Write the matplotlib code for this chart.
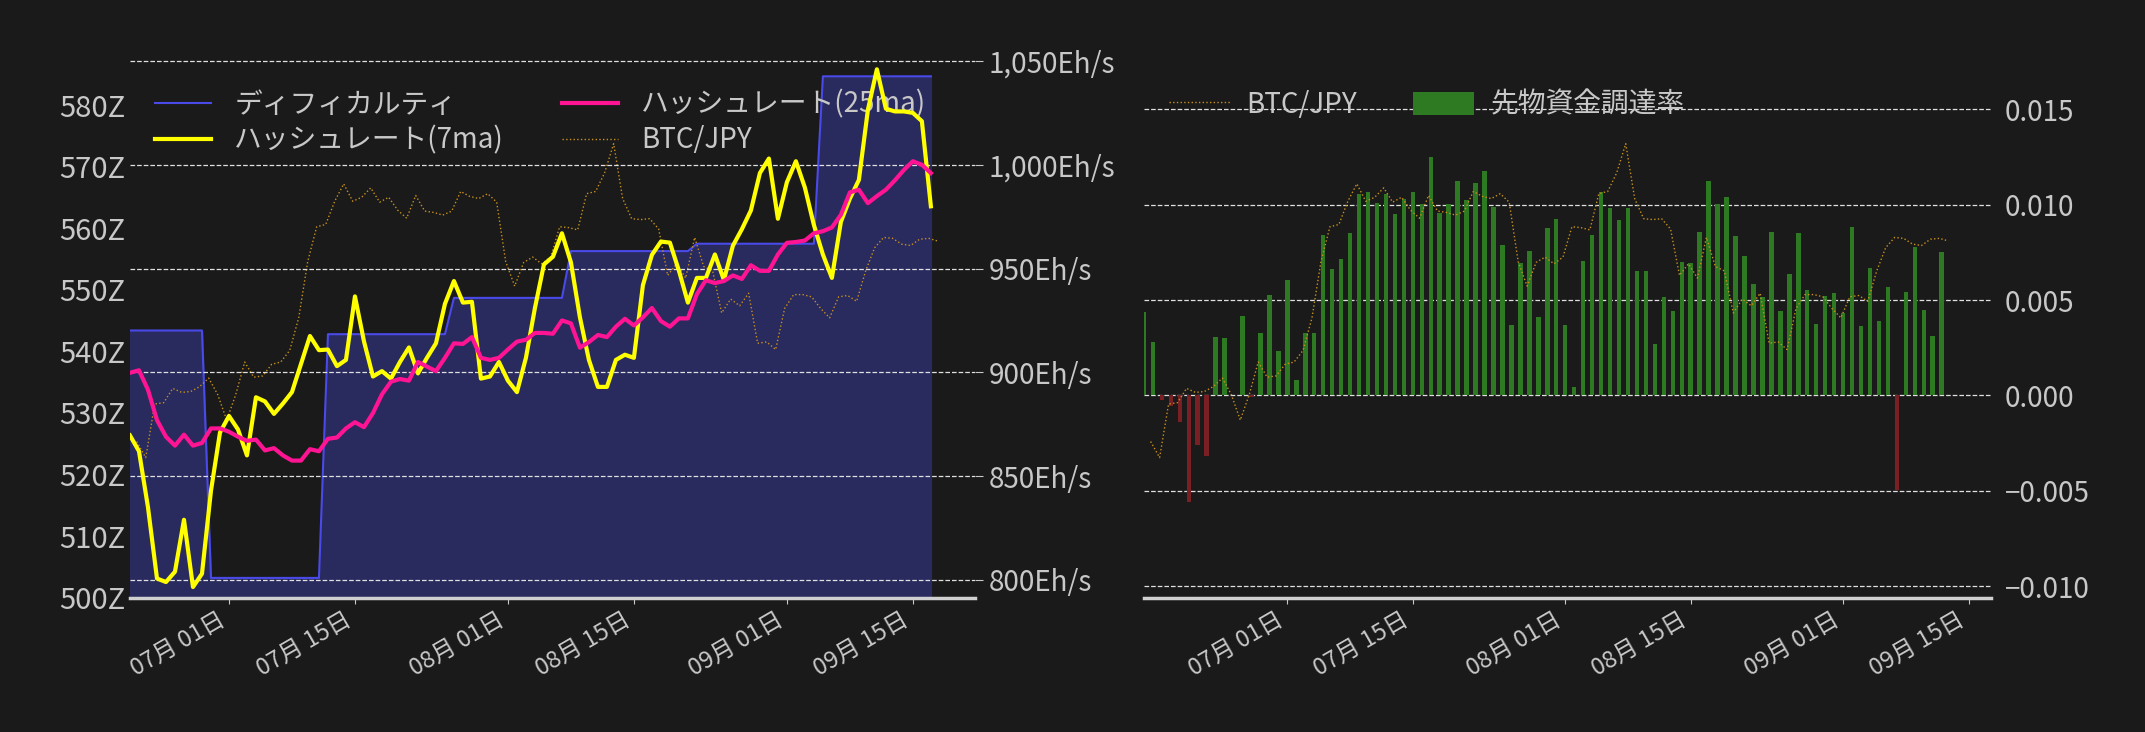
import numpy as np
import pandas as pd
import matplotlib
matplotlib.use("Agg")
import matplotlib.pyplot as plt
import matplotlib.dates as mdates
from matplotlib.ticker import FuncFormatter

plt.rcParams['font.family'] = ['Noto Sans CJK JP', 'DejaVu Sans']

BG = "#1a1a1a"
TXT = "#c8c8c8"

# ---- data ----
left_dates = pd.date_range("2023-06-20", periods=90, freq="D")
right_dates = pd.date_range("2023-06-15", periods=90, freq="D")

# difficulty epochs (Z) and their length in days
diff_values = [543.4, 503.2, 542.8, 548.7, 556.3, 557.5, 584.7]
diff_days = [9, 13, 14, 13, 14, 14, 13]

hash_7ma = [869.6, 862, 835, 800.7, 799, 804, 829, 796.6, 803, 843,
            871, 879, 872.5, 860, 888, 886, 880, 885, 890.5, 904,
            917.5, 910.7, 911, 903, 906, 936.6, 915, 898, 900.6, 897,
            905, 912, 899.5, 907, 914, 933, 944, 933.6, 934, 897,
            898, 905, 896, 890.5, 907, 931, 952, 955.7, 967, 953,
            926.5, 906, 893, 893, 906, 908.5, 907, 942, 956.6, 963,
            962.5, 949, 933.6, 945.5, 945.5, 956.8, 944.5, 961, 969, 978,
            996, 1003, 974, 991.6, 1001.7, 989, 971, 956.8, 945.5, 972.5,
            983.7, 992.7, 1026.4, 1046, 1027, 1025.7, 1025.7, 1025, 1021, 980]

hash_25ma = [899.8, 901, 891.6, 877, 869, 864.7, 870, 864.7, 866, 873,
             873, 871.4, 869, 867, 867.6, 862.4, 863.5, 860, 857.5, 857.5,
             863, 862, 868, 868.6, 873, 876, 873.6, 880.4, 889.4, 895.5,
             896.8, 896, 905, 902.8, 900.6, 907, 914, 913.7, 917, 907,
             906, 907, 911, 914.8, 915.7, 919, 919, 918.6, 925, 923.6,
             911.9, 914.6, 918, 917, 922, 925.8, 922.6, 926.5, 931, 924.7,
             922, 926, 926, 937.7, 944.4, 943, 944, 946.7, 945, 951.6,
             948.9, 948.9, 956.8, 962.4, 962.8, 963.5, 967, 968, 969.8, 975.9,
             986.7, 988, 981.5, 984.9, 988, 992.5, 997.5, 1001.7, 1000, 996]

# BTC/JPY (JPY)
btc_jpy = [3736000, 3700000, 3820000, 3823000, 3855000, 3846000, 3848000, 3859000, 3878000, 3841000,
           3784000, 3841000, 3914000, 3880000, 3883000, 3909000, 3914000, 3940000, 4013000, 4139000,
           4217000, 4222000, 4274000, 4313000, 4274000, 4283000, 4304000, 4272000, 4283000, 4254000,
           4236000, 4287000, 4252000, 4249000, 4243000, 4252000, 4296000, 4285000, 4280000, 4291000,
           4272000, 4139000, 4084000, 4137000, 4149000, 4134000, 4149000, 4217000, 4215000, 4210000,
           4291000, 4296000, 4338000, 4403000, 4280000, 4235000, 4233000, 4235000, 4212000, 4108000,
           4134000, 4102000, 4193000, 4128000, 4118000, 4024000, 4055000, 4040000, 4068000, 3956000,
           3959000, 3942000, 4034000, 4065000, 4065000, 4060000, 4034000, 4013000, 4060000, 4063000,
           4050000, 4118000, 4170000, 4193000, 4191000, 4178000, 4175000, 4189000, 4191000, 4185000]

funding_rate = [0.00437, 0.00279, -0.00024, -0.00056, -0.00138, -0.00558, -0.0026, -0.0032, 0.00308, 0.00299,
                0.0, 0.00417, -0.0001, 0.00328, 0.00527, 0.00231, 0.00607, 0.0008, 0.00328, 0.00328,
                0.00842, 0.00663, 0.00716, 0.00852, 0.01056, 0.01068, 0.01007, 0.01056, 0.00951, 0.01032,
                0.01068, 0.01002, 0.0125, 0.00959, 0.01002, 0.01124, 0.01024, 0.01114, 0.01177, 0.00988,
                0.00789, 0.00369, 0.00692, 0.00757, 0.00413, 0.00876, 0.00927, 0.00371, 0.00044, 0.00704,
                0.00842, 0.01068, 0.00981, 0.0092, 0.00981, 0.00655, 0.0065, 0.00272, 0.00515, 0.00442,
                0.00697, 0.00692, 0.00859, 0.01126, 0.01002, 0.01041, 0.00835, 0.00733, 0.00583, 0.00517,
                0.00857, 0.00442, 0.00636, 0.00852, 0.00551, 0.00374, 0.00522, 0.00539, 0.00432, 0.00881,
                0.00364, 0.00667, 0.00388, 0.0057, -0.00498, 0.00541, 0.00777, 0.00447, 0.00311, 0.0075]

difficulty = np.repeat(diff_values, diff_days)
btc_ylim = (3386500, 4616500)
xticks = pd.to_datetime(["2023-07-01", "2023-07-15", "2023-08-01", "2023-08-15", "2023-09-01", "2023-09-15"])


def style_axis(ax):
    ax.set_facecolor(BG)
    for s in ["top", "left", "right"]:
        ax.spines[s].set_visible(False)
    ax.spines["bottom"].set_color("#d0d0d0")
    ax.spines["bottom"].set_linewidth(2.5)
    ax.tick_params(colors=TXT, labelsize=17, length=4)
    ax.set_xticks(xticks)
    ax.xaxis.set_major_formatter(mdates.DateFormatter("%m月 %d日"))
    for lb in ax.get_xticklabels():
        lb.set_rotation(30)
        lb.set_ha("right")


fig = plt.figure(figsize=(21.45, 7.32), dpi=100)
fig.patch.set_facecolor(BG)

# ---- left panel ----
ax = fig.add_axes([0.0606, 0.1836, 0.394, 0.7504])
style_axis(ax)
ax.fill_between(left_dates, 500, difficulty, color="#292a5e", zorder=1)
l_diff, = ax.plot(left_dates, difficulty, color="#4a4ae8", lw=1.5, label="ディフィカルティ", zorder=2)
ax.set_ylim(500, 589.25)
ax.set_yticks(np.arange(500, 581, 10))
ax.yaxis.set_major_formatter(FuncFormatter(lambda v, p: f"{v:.0f}Z"))
ax.set_xlim(left_dates[0], pd.Timestamp("2023-09-21 22:00"))

ax_btc = ax.twinx()
ax_btc.set_ylim(*btc_ylim)
ax_btc.axis("off")
l_btc, = ax_btc.plot(left_dates + pd.Timedelta(hours=18), btc_jpy, color="#c8901a", lw=1, ls=":", label="BTC/JPY")

ax_h = ax.twinx()
for s in ["top", "left", "right", "bottom"]:
    ax_h.spines[s].set_visible(False)
ax_h.set_ylim(791.5, 1056.1)
ax_h.set_yticks(np.arange(800, 1051, 50))
ax_h.yaxis.set_major_formatter(FuncFormatter(lambda v, p: f"{v:,.0f}Eh/s"))
ax_h.tick_params(axis="y", colors=TXT, labelsize=20, length=6)
ax_h.grid(axis="y", color="#e0e0e0", ls="--", lw=0.9)
l_h7, = ax_h.plot(left_dates, hash_7ma, color="#ffff00", lw=3, label="ハッシュレート(7ma)")
l_h25, = ax_h.plot(left_dates, hash_25ma, color="#ff1493", lw=3, label="ハッシュレート(25ma)")

ax.yaxis.tick_left()
ax.tick_params(axis="y", colors=TXT, length=0, labelsize=21)

leg = ax.legend([l_diff, l_h7, l_h25, l_btc], [h.get_label() for h in [l_diff, l_h7, l_h25, l_btc]],
                ncol=2, loc="upper left", bbox_to_anchor=(0.0, 0.97), frameon=False,
                fontsize=20, handlelength=2.0, handletextpad=0.85, columnspacing=2.1, labelspacing=0.2)
for t in leg.get_texts():
    t.set_color(TXT)

# ---- right panel ----
ax2 = fig.add_axes([0.5333, 0.1836, 0.3949, 0.7504])
style_axis(ax2)
bar_colors = ["#2d7a22" if v >= 0 else "#7a1f24" for v in funding_rate]
bars = ax2.bar(right_dates, funding_rate, width=0.5, color=bar_colors, label="先物資金調達率", zorder=2)
ax2.set_ylim(-0.0106, 0.0182)
ax2.set_yticks([-0.010, -0.005, 0.0, 0.005, 0.010, 0.015])
ax2.yaxis.set_major_formatter(FuncFormatter(lambda v, p: f"{v:.3f}".replace("-", "−")))
ax2.grid(axis="y", color="#e0e0e0", ls="--", lw=0.9, zorder=0)
ax2.set_xlim(right_dates[0], pd.Timestamp("2023-09-17 12:00"))

ax2_btc = ax2.twinx()
ax2_btc.set_ylim(*btc_ylim)
ax2_btc.axis("off")
r_btc, = ax2_btc.plot(right_dates + pd.Timedelta(hours=18), btc_jpy, color="#c8901a", lw=1, ls=":", label="BTC/JPY")

# twinx moves ticks to the left, put them back on the right
ax2.yaxis.tick_right()
ax2.tick_params(axis="y", colors=TXT, length=0, labelsize=20, pad=10)

leg2 = ax2_btc.legend([r_btc, bars], ["BTC/JPY", "先物資金調達率"], ncol=2, loc="upper left",
                      bbox_to_anchor=(0.0, 0.97), frameon=False, fontsize=20,
                      handlelength=2.2, handleheight=0.9, handletextpad=0.6, columnspacing=2.0)
for t in leg2.get_texts():
    t.set_color(TXT)

fig.savefig("out.png", dpi=100, facecolor=BG)
